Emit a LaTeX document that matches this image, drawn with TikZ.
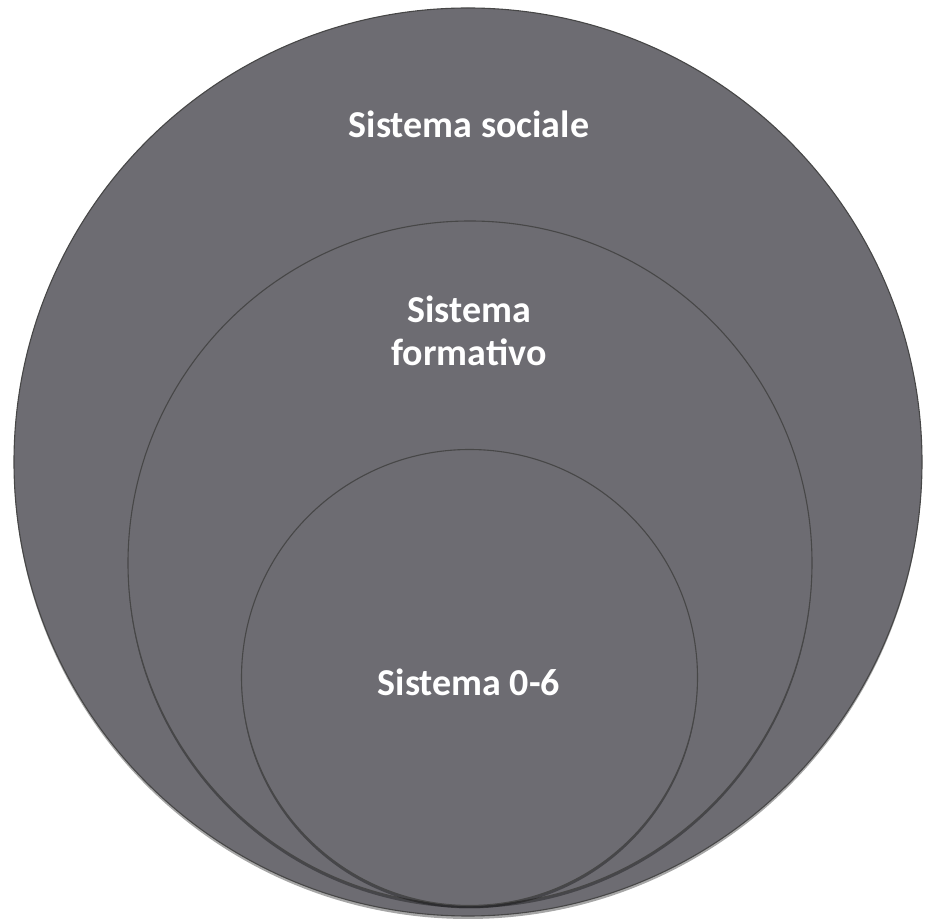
\documentclass[tikz,border=0pt]{standalone}
\usepackage{fontspec}
\setmainfont{Carlito}
\usetikzlibrary{shadows}
\tikzset{
  ring/.style={circle, draw=black!72, line width=1.1pt, fill=circfill, inner sep=0pt,
    drop shadow={shadow xshift=0pt, shadow yshift=-3pt, opacity=0.35, fill=black}},
  lbl/.style={text=white, font=\bfseries\fontsize{38}{43}\selectfont, align=center}
}
\definecolor{circfill}{RGB}{109,108,114}
\begin{document}
\begin{tikzpicture}[x=1pt,y=1pt]
\useasboundingbox (0,0) rectangle (924,924);
\node[ring, minimum size=908pt] (outer) at (468,462) {};
\node[ring, minimum size=684pt] (middle) at (470,361) {};
\node[ring, minimum size=456pt] (inner) at (469.5,246.5) {};
\node[lbl] (t1) at (469,800) {Sistema sociale};
\node[lbl] (t2) at (469,593) {Sistema\\formativo};
\node[lbl] (t3) at (469,242) {Sistema 0-6};
\end{tikzpicture}
\end{document}
